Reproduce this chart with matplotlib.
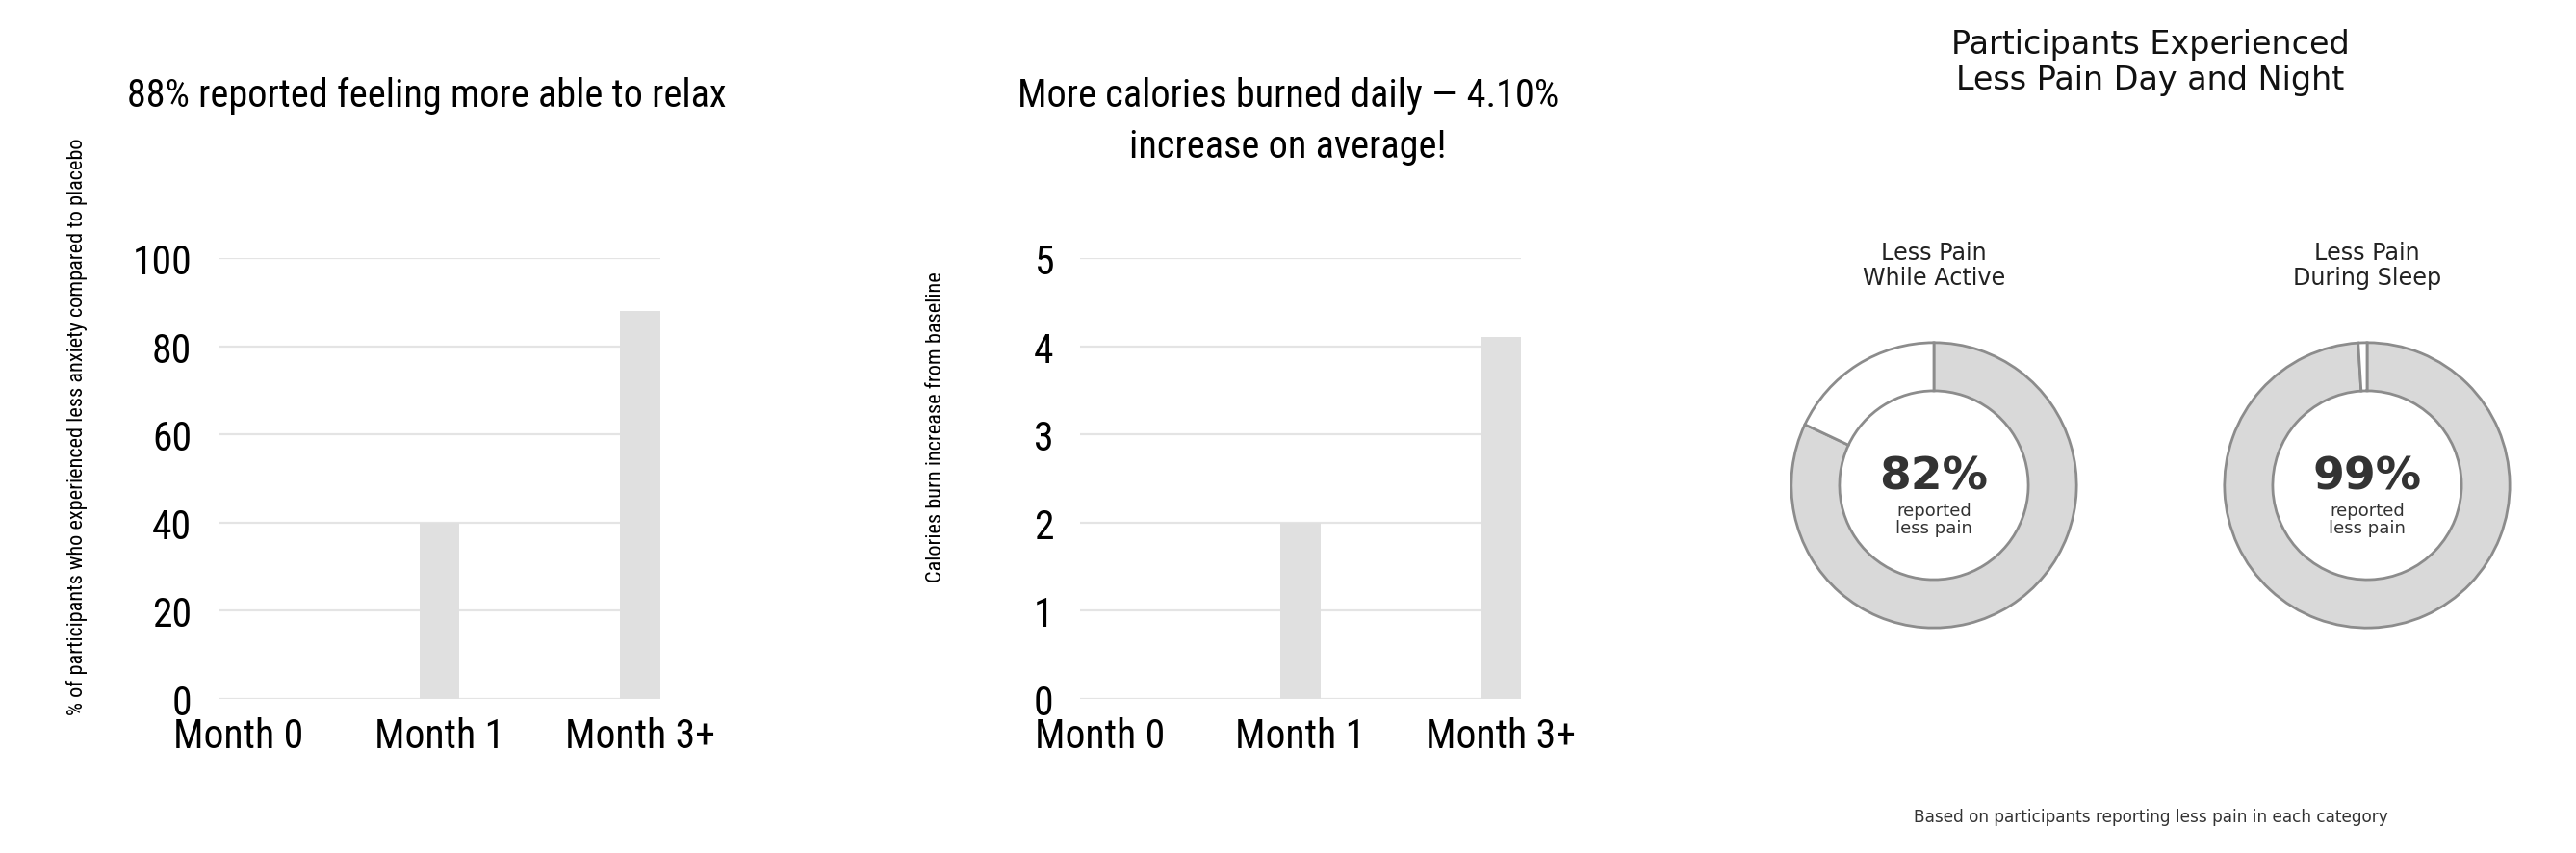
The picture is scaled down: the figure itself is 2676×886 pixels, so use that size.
import matplotlib
matplotlib.use("Agg")
import matplotlib.pyplot as plt
from matplotlib import font_manager

# ---- data ----
months = ["Month 0", "Month 1", "Month 3+"]
relax_pct = [0, 40, 88]
calorie_increase = [0, 2, 4.1]
relax_ticks = [0, 20, 40, 60, 80, 100]
calorie_ticks = [0, 1, 2, 3, 4, 5]

pain_labels = ["Less Pain\nWhile Active", "Less Pain\nDuring Sleep"]
pain_values = [82, 99]

title1 = "88% reported feeling more able to relax"
title2 = "More calories burned daily — 4.10%\nincrease on average!"
ylabel1 = "% of participants who experienced less anxiety compared to placebo"
ylabel2 = "Calories burn increase from baseline"
donut_title = "Participants Experienced\nLess Pain Day and Night"
footnote = "Based on participants reporting less pain in each category"

# ---- fonts ----
avail = {f.name for f in font_manager.fontManager.ttflist}
narrow = None
for cand in ["Liberation Sans Narrow", "Arial Narrow", "Roboto Condensed"]:
    if cand in avail:
        narrow = cand
        break
if narrow is not None:
    BAR_FONT = [narrow, "DejaVu Sans"]
    S_TITLE, S_TICK, S_YLAB = 29, 30, 16
else:
    BAR_FONT = ["Liberation Sans", "DejaVu Sans"]
    S_TITLE, S_TICK, S_YLAB = 25.5, 27, 14.2
DONUT_FONT = ["DejaVu Sans"]

W, H = 2676, 887
fig = plt.figure(figsize=(W / 100, H / 100), dpi=100)
fig.patch.set_facecolor("white")

def px_rect(left, top, right, bottom):
    return [left / W, 1 - bottom / H, (right - left) / W, (bottom - top) / H]

BAR_COLOR = "#e0e0e0"
GRID_COLOR = "#e4e4e4"

def bar_chart(rect, values, ticks, title, title_x, ylabel, ylabel_x):
    ax = fig.add_axes(rect)
    x = list(range(len(months)))
    ax.bar(x, values, width=0.2, color=BAR_COLOR, zorder=2)
    ax.set_xlim(-0.1, len(months) - 1 + 0.1)
    ax.set_ylim(ticks[0], ticks[-1])
    ax.set_yticks(ticks)
    ax.set_xticks(x)
    ax.set_xticklabels(months)
    ax.yaxis.grid(True, color=GRID_COLOR, linewidth=1.6, zorder=0)
    ax.set_axisbelow(True)
    for s in ax.spines.values():
        s.set_visible(False)
    ax.tick_params(axis="both", length=0, labelsize=S_TICK, colors="black")
    ax.tick_params(axis="y", pad=20)
    ax.tick_params(axis="x", pad=13)
    for lab in ax.get_xticklabels() + ax.get_yticklabels():
        lab.set_family(BAR_FONT)
    fig.text(title_x / W, 1 - 80 / H, title, ha="center", va="top",
             fontsize=S_TITLE, family=BAR_FONT, color="black", linespacing=1.46)
    fig.text(ylabel_x / W, 0.5, ylabel, rotation=90, ha="center", va="center",
             fontsize=S_YLAB, family=BAR_FONT, color="black")
    return ax

bar_chart(px_rect(227, 269, 686, 727), relax_pct, relax_ticks, title1, 443, ylabel1, 80)
bar_chart(px_rect(1122, 269, 1580, 727), calorie_increase, calorie_ticks, title2, 1338, ylabel2, 973)

# ---- donuts ----
centers_x = [2009, 2459]
cy = 505
half = 160
for lab, val, cx in zip(pain_labels, pain_values, centers_x):
    ax = fig.add_axes(px_rect(cx - half, cy - half, cx + half, cy + half))
    ax.pie([val, 100 - val], colors=["#d9d9d9", "white"], startangle=90,
           counterclock=False, radius=1.0,
           wedgeprops=dict(width=0.338, edgecolor="#8c8c8c", linewidth=2))
    ax.set_xlim(-1.08, 1.08)
    ax.set_ylim(-1.08, 1.08)
    ax.set_aspect("equal")
    ax.axis("off")
    fig.text(cx / W, 1 - 276 / H, lab, ha="center", va="center", fontsize=17.2,
             family=DONUT_FONT, color="#222222", linespacing=1.1)
    fig.text(cx / W, 1 - 496 / H, f"{val}%", ha="center", va="center", fontsize=34,
             fontweight="bold", family=DONUT_FONT, color="#333333")
    fig.text(cx / W, 1 - 540 / H, "reported\nless pain", ha="center", va="center",
             fontsize=13, family=DONUT_FONT, color="#333333", linespacing=1.0)

mid = (centers_x[0] + centers_x[1]) / 2
fig.text(mid / W, 1 - 65 / H, donut_title, ha="center", va="center", fontsize=24,
         family=DONUT_FONT, color="#111111", linespacing=1.15)
fig.text(mid / W, 1 - 849 / H, footnote, ha="center", va="center", fontsize=12.2,
         family=DONUT_FONT, color="#333333")

fig.savefig("out.png", dpi=100, facecolor="white")
